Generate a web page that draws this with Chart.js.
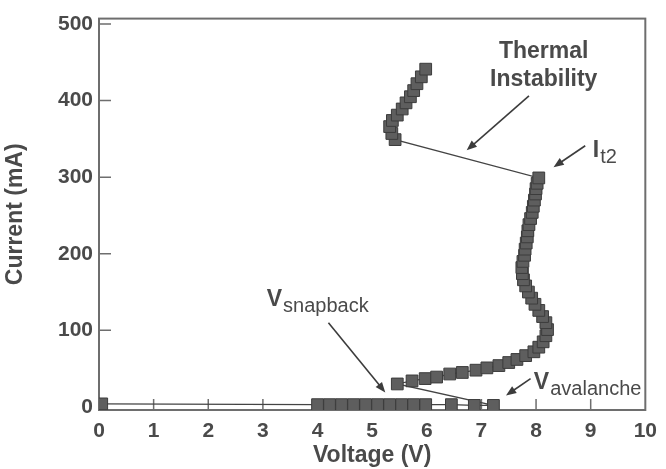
<!DOCTYPE html>
<html>
<head>
<meta charset="utf-8">
<script src="https://cdn.jsdelivr.net/npm/chart.js@4/dist/chart.umd.min.js"></script>
<style>
  html, body { margin: 0; padding: 0; background: #fff; }
  #wrap { width: 666px; height: 469px; }
</style>
</head>
<body>
<div id="wrap"><canvas id="ivChart"></canvas></div>
<script>
// I-V sweep, in measurement order (the line follows this order)
const voltage = [
  0.05,
  4.0, 4.22, 4.44, 4.66, 4.88, 5.1, 5.32, 5.54, 5.76, 5.98, 6.45, 6.87, 7.22,
  5.46, 5.73, 5.97, 6.18, 6.42, 6.65, 6.9, 7.1, 7.32, 7.5, 7.65, 7.81, 7.96, 8.05, 8.13, 8.18, 8.21,
  8.18, 8.12, 8.05, 7.98, 7.92, 7.86, 7.81, 7.77, 7.75, 7.74, 7.76, 7.79, 7.8, 7.82, 7.84, 7.85,
  7.87, 7.9, 7.93, 7.95, 7.97, 7.99, 8.0, 8.02, 8.05,
  5.42, 5.36, 5.32, 5.37, 5.46, 5.55, 5.62, 5.7, 5.76, 5.82, 5.9, 5.98
]
const current = [
  4,
  3, 3, 3, 3, 3, 3, 3, 3, 3, 3, 3, 2, 2,
  30, 34, 37, 39, 43, 45, 48, 51, 54, 58, 62, 67, 72, 78, 85, 93, 101,
  110, 118, 126, 134, 142, 150, 158, 166, 174, 182, 190, 198, 206, 214, 222, 230,
  238, 246, 254, 262, 270, 278, 285, 292, 299,
  349, 357, 366, 374, 381, 389, 397, 405, 413, 422, 431, 441
]
const xTicks = [0, 1, 2, 3, 4, 5, 6, 7, 8, 9, 10]
const yTicks = [0, 100, 200, 300, 400, 500]

// callouts, placed in data units (V, mA)
const notes = [
  { text: 'Thermal', x: 8.14, y: 464, align: 'center' },
  { text: 'Instability', x: 8.14, y: 427, align: 'center' },
  { text: 'I', sub: 't2', x: 9.04, y: 335, align: 'left' },
  { text: 'V', sub: 'snapback', x: 3.07, y: 140, align: 'left' },
  { text: 'V', sub: 'avalanche', x: 7.96, y: 32, align: 'left' }
]
const arrows = [
  [7.87, 406, 6.73, 335],
  [8.9, 341, 8.32, 313],
  [4.2, 110, 5.24, 19],
  [7.9, 37, 7.45, 15]
]

const FONT = '"Liberation Sans", Arial, Helvetica, sans-serif'
const INK = '#4a4a4a'

const points = voltage.map(function (v, i) {
  return { x: v, y: current[i] }
})

const frame = {
  id: 'frame',
  beforeDatasetsDraw(chart) {
    const ctx = chart.ctx
    const a = chart.chartArea
    const xs = chart.scales.x
    const ys = chart.scales.y
    ctx.save()
    ctx.strokeStyle = '#6e6e6e'
    ctx.lineWidth = 2
    ctx.strokeRect(a.left, a.top, a.right - a.left, a.bottom - a.top)
    ctx.lineWidth = 1.5
    ctx.beginPath()
    xTicks.slice(1, -1).forEach(function (v) {
      const px = xs.getPixelForValue(v)
      ctx.moveTo(px, a.bottom)
      ctx.lineTo(px, a.bottom - 11)
    })
    yTicks.slice(1).forEach(function (v) {
      const py = ys.getPixelForValue(v)
      ctx.moveTo(a.left, py)
      ctx.lineTo(a.left + 12, py)
    })
    ctx.stroke()
    ctx.restore()
  },
  afterDatasetsDraw(chart) {
    const ctx = chart.ctx
    const xs = chart.scales.x
    const ys = chart.scales.y
    ctx.save()
    ctx.fillStyle = INK
    ctx.strokeStyle = '#3c3c3c'
    ctx.textBaseline = 'middle'
    notes.forEach(function (n) {
      const px = xs.getPixelForValue(n.x)
      const py = ys.getPixelForValue(n.y)
      ctx.font = 'bold 23px ' + FONT
      ctx.textAlign = n.align
      ctx.fillText(n.text, px, py)
      if (n.sub) {
        const w = ctx.measureText(n.text).width
        ctx.font = '20px ' + FONT
        ctx.textAlign = 'left'
        ctx.fillText(n.sub, px + w + 1, py + 7)
      }
    })
    ctx.lineWidth = 1.6
    arrows.forEach(function (ar) {
      const x0 = xs.getPixelForValue(ar[0])
      const y0 = ys.getPixelForValue(ar[1])
      const x1 = xs.getPixelForValue(ar[2])
      const y1 = ys.getPixelForValue(ar[3])
      const ang = Math.atan2(y1 - y0, x1 - x0)
      const len = 11
      ctx.beginPath()
      ctx.moveTo(x0, y0)
      ctx.lineTo(x1 - Math.cos(ang) * len * 0.8, y1 - Math.sin(ang) * len * 0.8)
      ctx.stroke()
      ctx.beginPath()
      ctx.moveTo(x1, y1)
      ctx.lineTo(x1 - Math.cos(ang - 0.38) * len, y1 - Math.sin(ang - 0.38) * len)
      ctx.lineTo(x1 - Math.cos(ang + 0.38) * len, y1 - Math.sin(ang + 0.38) * len)
      ctx.closePath()
      ctx.fillStyle = '#3c3c3c'
      ctx.fill()
    })
    ctx.restore()
  }
}

new Chart(document.getElementById('ivChart'), {
  type: 'scatter',
  data: {
    datasets: [{
      data: points,
      showLine: true,
      borderColor: '#444',
      borderWidth: 1.3,
      pointStyle: 'rect',
      pointRadius: 8.3,
      pointBackgroundColor: '#5e5e5e',
      pointBorderColor: '#3c3c3c',
      pointBorderWidth: 1,
      tension: 0
    }]
  },
  options: {
    responsive: true,
    maintainAspectRatio: false,
    animation: false,
    layout: { padding: { top: 15, right: 13, left: 0, bottom: 0 } },
    plugins: { legend: { display: false }, tooltip: { enabled: false } },
    scales: {
      x: {
        type: 'linear',
        min: 0,
        max: 10,
        afterBuildTicks: function (s) { s.ticks = xTicks.map(function (v) { return { value: v } }) },
        afterFit: function (s) { s.height = 59 },
        grid: { display: false, drawTicks: false },
        border: { display: false },
        ticks: { color: INK, padding: 9, maxRotation: 0, font: { family: FONT, size: 21, weight: 'bold' } },
        title: { display: true, text: 'Voltage (V)', color: INK, padding: { top: 0, bottom: 0 }, font: { family: FONT, size: 23, weight: 'bold' } }
      },
      y: {
        type: 'linear',
        min: -4,
        max: 507,
        afterBuildTicks: function (s) { s.ticks = yTicks.map(function (v) { return { value: v } }) },
        afterFit: function (s) { s.width = 99 },
        grid: { display: false, drawTicks: false },
        border: { display: false },
        ticks: { color: INK, padding: 6, font: { family: FONT, size: 21, weight: 'bold' } },
        title: { display: true, text: 'Current (mA)', color: INK, padding: { top: 2, bottom: 0 }, font: { family: FONT, size: 23, weight: 'bold' } }
      }
    }
  },
  plugins: [frame]
})
</script>
</body>
</html>
